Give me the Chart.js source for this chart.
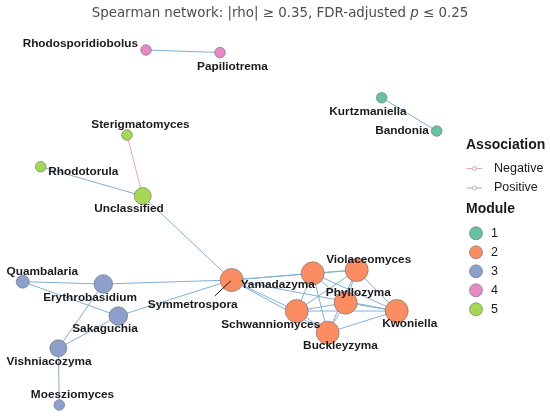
<!DOCTYPE html>
<html>
<head>
<meta charset="utf-8">
<script src="https://cdn.jsdelivr.net/npm/chart.js@4.4.1/dist/chart.umd.min.js"></script>
<style>
html, body { margin: 0; padding: 0; background: #fff; }
#wrap { width: 550px; height: 419px; }
</style>
</head>
<body>
<div id="wrap"><canvas id="net"></canvas></div>
<script>
"use strict";

// nodes (genus), layout coordinates, module membership
var genera = ["Rhodosporidiobolus", "Papiliotrema", "Kurtzmaniella", "Bandonia",
    "Sterigmatomyces", "Rhodotorula", "Unclassified",
    "Symmetrospora", "Yamadazyma", "Violaceomyces", "Phyllozyma", "Schwanniomyces", "Kwoniella", "Buckleyzyma",
    "Quambalaria", "Erythrobasidium", "Sakaguchia", "Vishniacozyma", "Moesziomyces"];
var layoutX = [146, 220, 381.7, 436.7, 127, 40.7, 142.7, 231.7, 312.7, 356.7, 345.7, 296.7, 396.7, 327.7, 22.7, 103.3, 118.3, 58.3, 59.3];
var layoutY = [50, 52.5, 97.7, 131, 135, 166.7, 196, 280, 273.3, 270, 302.7, 311, 311, 332.7, 281.7, 284, 316, 348.3, 405];
var modules = [4, 4, 1, 1, 5, 5, 5, 2, 2, 2, 2, 2, 2, 2, 3, 3, 3, 3, 3];
var degree = [1, 1, 1, 1, 1, 1, 3, 9, 6, 6, 6, 6, 6, 6, 2, 4, 4, 3, 1];

// edges: [from, to]
var positiveEdges = [
    ["Rhodosporidiobolus", "Papiliotrema"],
    ["Kurtzmaniella", "Bandonia"],
    ["Rhodotorula", "Unclassified"],
    ["Unclassified", "Symmetrospora"],
    ["Quambalaria", "Erythrobasidium"],
    ["Quambalaria", "Sakaguchia"],
    ["Erythrobasidium", "Symmetrospora"],
    ["Erythrobasidium", "Vishniacozyma"],
    ["Sakaguchia", "Symmetrospora"],
    ["Sakaguchia", "Vishniacozyma"],
    ["Vishniacozyma", "Moesziomyces"],
    ["Symmetrospora", "Yamadazyma"],
    ["Symmetrospora", "Violaceomyces"],
    ["Symmetrospora", "Schwanniomyces"],
    ["Symmetrospora", "Buckleyzyma"],
    ["Symmetrospora", "Kwoniella"],
    ["Yamadazyma", "Violaceomyces"],
    ["Yamadazyma", "Phyllozyma"],
    ["Yamadazyma", "Schwanniomyces"],
    ["Yamadazyma", "Buckleyzyma"],
    ["Yamadazyma", "Kwoniella"],
    ["Violaceomyces", "Phyllozyma"],
    ["Violaceomyces", "Schwanniomyces"],
    ["Violaceomyces", "Buckleyzyma"],
    ["Violaceomyces", "Kwoniella"],
    ["Phyllozyma", "Schwanniomyces"],
    ["Phyllozyma", "Buckleyzyma"],
    ["Phyllozyma", "Kwoniella"],
    ["Schwanniomyces", "Buckleyzyma"],
    ["Schwanniomyces", "Kwoniella"],
    ["Buckleyzyma", "Kwoniella"]
];
var negativeEdges = [
    ["Sterigmatomyces", "Unclassified"]
];

var moduleNames = ["1", "2", "3", "4", "5"];
var moduleColors = ["#66C2A5", "#FC8D62", "#8DA0CB", "#E78AC3", "#A6D854"];
var posColor = "#7FB0D8";
var negColor = "#F2A3A3";

// label placement relative to node (dx, dy), repel-style
var labelOffset = {
    "Rhodosporidiobolus": [-65.7, -6], "Papiliotrema": [12.5, 14], "Kurtzmaniella": [-13.7, 14],
    "Bandonia": [-34.7, 0], "Sterigmatomyces": [13.5, -10], "Rhodotorula": [42.6, 5],
    "Unclassified": [-13.7, 12.7], "Symmetrospora": [-39, 25], "Yamadazyma": [-35, 11.7],
    "Violaceomyces": [12, -10.7], "Phyllozyma": [12.6, -10], "Schwanniomyces": [-26, 14],
    "Kwoniella": [13, 13], "Buckleyzyma": [12.8, 13.3], "Quambalaria": [19.6, -10],
    "Erythrobasidium": [-13.3, 13.3], "Sakaguchia": [-13.3, 13], "Vishniacozyma": [-9.3, 13.4],
    "Moesziomyces": [13.2, -10]
};

function idx(name) { return genera.indexOf(name); }

function edgeSet(list, color) {
    return list.map(function(e) {
        var a = idx(e[0]), b = idx(e[1]);
        return {
            type: 'line',
            data: [{x: layoutX[a], y: layoutY[a]}, {x: layoutX[b], y: layoutY[b]}],
            borderColor: color,
            borderWidth: 1,
            pointRadius: 0,
            order: 2
        };
    });
}

var nodePoints = genera.map(function(g, i) { return {x: layoutX[i], y: layoutY[i]}; });

var datasets = edgeSet(positiveEdges, posColor).concat(edgeSet(negativeEdges, negColor));
datasets.push({
    type: 'scatter',
    data: nodePoints,
    pointRadius: function(ctx) {
        var d = degree[ctx.dataIndex];
        return d >= 6 ? 11.5 : (d >= 4 ? 9.3 : (d === 3 ? 8.5 : (d === 2 ? 6.5 : 5.3)));
    },
    backgroundColor: function(ctx) { return moduleColors[modules[ctx.dataIndex] - 1]; },
    borderColor: "#6b6b6b",
    borderWidth: 0.6,
    order: 1
});

var overlay = {
    id: 'overlay',
    afterDatasetsDraw: function(chart) {
        var c = chart.ctx;
        var sx = chart.scales.x, sy = chart.scales.y;
        c.save();

        // leader segment for Symmetrospora
        var s = idx("Symmetrospora");
        c.strokeStyle = "#111";
        c.lineWidth = 1;
        c.beginPath();
        c.moveTo(sx.getPixelForValue(layoutX[s]) - 17, sy.getPixelForValue(layoutY[s]) + 16);
        c.lineTo(sx.getPixelForValue(layoutX[s]) - 1, sy.getPixelForValue(layoutY[s]) + 1);
        c.stroke();

        // node labels
        c.font = "bold 11.8px 'Liberation Sans', Arial, sans-serif";
        c.fillStyle = "#1a1a1a";
        c.textAlign = "center";
        c.textBaseline = "middle";
        genera.forEach(function(g, i) {
            var o = labelOffset[g];
            c.fillText(g, sx.getPixelForValue(layoutX[i]) + o[0], sy.getPixelForValue(layoutY[i]) + o[1]);
        });

        // title with italic p
        c.fillStyle = "#4d4d4d";
        c.textAlign = "left";
        var t1 = "Spearman network: |rho| \u2265 0.35, FDR-adjusted ";
        var t2 = "p";
        var t3 = " \u2264 0.25";
        var fN = "13.4px 'DejaVu Sans', sans-serif";
        var fI = "italic 13.4px 'DejaVu Sans', sans-serif";
        c.font = fN; var w1 = c.measureText(t1).width, w3 = c.measureText(t3).width;
        c.font = fI; var w2 = c.measureText(t2).width;
        var x0 = 280 - (w1 + w2 + w3) / 2;
        c.font = fN; c.fillText(t1, x0, 14);
        c.font = fI; c.fillText(t2, x0 + w1, 14);
        c.font = fN; c.fillText(t3, x0 + w1 + w2, 14);

        // legend: Association
        c.fillStyle = "#1a1a1a";
        c.font = "bold 14px 'Liberation Sans', Arial, sans-serif";
        c.fillText("Association", 466, 145);
        c.font = "12.5px 'Liberation Sans', Arial, sans-serif";
        [["Negative", negColor, 168.5], ["Positive", posColor, 188]].forEach(function(r) {
            c.strokeStyle = r[1];
            c.lineWidth = 1;
            c.beginPath();
            c.moveTo(467, r[2]); c.lineTo(482, r[2]);
            c.stroke();
            c.beginPath();
            c.arc(474.5, r[2], 2, 0, Math.PI * 2);
            c.fillStyle = "#fff"; c.fill();
            c.strokeStyle = "#999"; c.lineWidth = 0.7; c.stroke();
            c.fillStyle = "#1a1a1a";
            c.fillText(r[0], 494, r[2]);
        });

        // legend: Module
        c.font = "bold 14px 'Liberation Sans', Arial, sans-serif";
        c.fillText("Module", 466, 209.5);
        c.font = "12.5px 'Liberation Sans', Arial, sans-serif";
        moduleNames.forEach(function(m, i) {
            var y = 233.3 + i * 19;
            c.beginPath();
            c.arc(476, y, 6.5, 0, Math.PI * 2);
            c.fillStyle = moduleColors[i]; c.fill();
            c.strokeStyle = "#6b6b6b"; c.lineWidth = 0.6; c.stroke();
            c.fillStyle = "#1a1a1a";
            c.fillText(m, 491, y);
        });
        c.restore();
    }
};

new Chart(document.getElementById('net'), {
    type: 'scatter',
    data: { datasets: datasets },
    options: {
        responsive: true,
        maintainAspectRatio: false,
        animation: false,
        layout: { padding: 0, autoPadding: false },
        scales: {
            x: { type: 'linear', display: false, min: 0, max: 550 },
            y: { type: 'linear', display: false, min: 0, max: 419, reverse: true }
        },
        plugins: {
            legend: { display: false },
            tooltip: { enabled: false },
            title: { display: false }
        }
    },
    plugins: [overlay]
});
</script>
</body>
</html>
